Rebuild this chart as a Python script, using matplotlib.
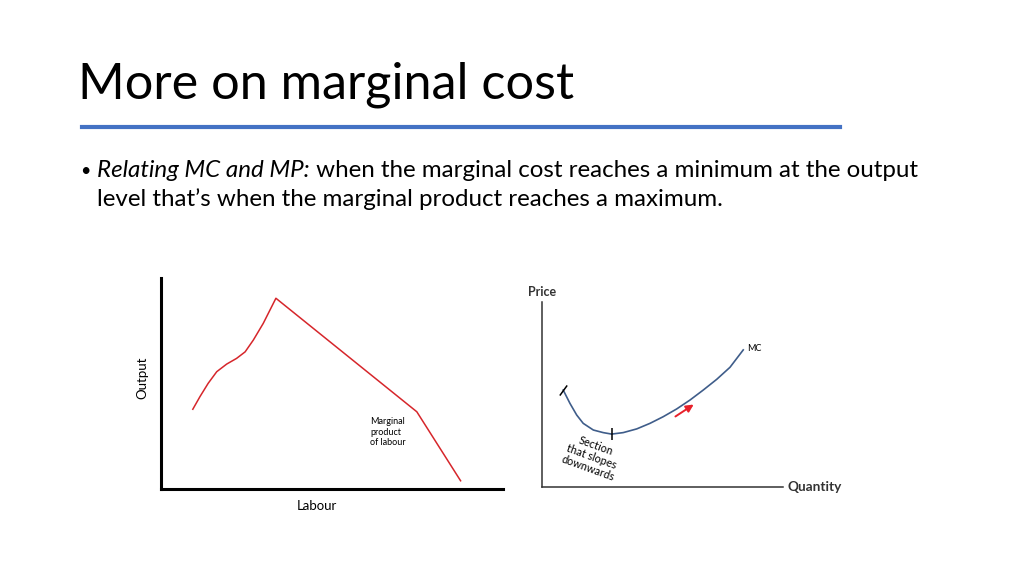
import matplotlib.pyplot as plt

plt.rcParams['font.family'] = ['Lato', 'DejaVu Sans']

# slide text
title = "More on marginal cost"
bullet_lead = "Relating MC and MP:"
bullet_rest = " when the marginal cost reaches a minimum at the output"
bullet_line2 = "level that\u2019s when the marginal product reaches a maximum."

# left chart: marginal product of labour (axis units 0-100)
mp_labour = [9.3, 11.4, 13.8, 16.3, 19.2, 22.1, 24.6, 27.0, 29.9, 33.6, 74.8, 87.6]
mp_output = [37.8, 43.8, 50.1, 55.6, 59.2, 61.9, 65.0, 70.6, 78.5, 90.4, 36.6, 3.9]

# right chart: marginal cost curve (axis units 0-100)
mc_qty = [8.8, 11.6, 14.4, 17.1, 21.3, 25.4, 28.9, 33.7, 39.3, 44.8, 50.3,
          55.9, 61.4, 66.9, 72.5, 78.0, 83.5]
mc_price = [52.4, 45.2, 38.9, 34.4, 30.8, 29.4, 28.6, 29.4, 31.4, 34.4, 38.0,
            42.2, 47.0, 52.4, 58.2, 64.7, 74.1]


def slide_text(fig):
    fig.text(78 / 1024, 1 - 85 / 575, title, fontsize=36.3,
             va='center', ha='left', color='black')
    fig.add_artist(plt.Line2D([82 / 1024, 840 / 1024], [1 - 127 / 575, 1 - 127 / 575],
                              color='#4472C4', lw=3, transform=fig.transFigure))
    fig.text(80 / 1024, 1 - 171 / 575, "\u2022", fontsize=13, va='center', ha='left')
    lead = fig.text(97 / 1024, 1 - 171 / 575, bullet_lead, fontsize=17.4,
                    style='italic', va='center', ha='left')
    r = fig.canvas.get_renderer()
    bb = lead.get_window_extent(r)
    fig.text(bb.x1 / fig.bbox.width, 1 - 171 / 575, bullet_rest, fontsize=17.4,
             va='center', ha='left')
    fig.text(97 / 1024, 1 - 199 / 575, bullet_line2, fontsize=17.4,
             va='center', ha='left')


def left_chart(fig):
    ax = fig.add_axes([161 / 1024, 1 - 489 / 575, 342 / 1024, 211 / 575])
    ax.plot(mp_labour, mp_output, color='#D6262B', lw=1.1)
    ax.set_xlim(0, 100)
    ax.set_ylim(0, 100)
    for s in ['top', 'right']:
        ax.spines[s].set_visible(False)
    ax.spines['left'].set_linewidth(2.2)
    ax.spines['bottom'].set_linewidth(2.2)
    ax.set_xticks([])
    ax.set_yticks([])
    ax.patch.set_alpha(0)
    ax.text(45.6, -8.2, "Labour", fontsize=9.5, va='center', ha='center')
    ax.text(-5.3, 52.6, "Output", fontsize=9.5, va='center', ha='center',
            rotation=90)
    ax.text(61.2, 27, "Marginal\nproduct\nof labour", fontsize=6.5,
            va='center', ha='left', multialignment='left', linespacing=1.25)


def right_chart(fig):
    ax = fig.add_axes([542 / 1024, 1 - 487 / 575, 241 / 1024, 185 / 575])
    ax.plot(mc_qty, mc_price, color='#3F5D8A', lw=1.2)
    ax.plot(mc_qty[0], mc_price[0], marker=(2, 0, -36), color='black',
            markersize=9, mew=1.1)
    ax.plot(mc_qty[6], mc_price[6], marker='|', color='black',
            markersize=8, mew=1.1)
    ax.annotate("", xy=(63.9, 45.4), xytext=(54.4, 37.3),
                arrowprops=dict(arrowstyle='-|>', color='#E8202A', lw=1.4,
                                mutation_scale=11))
    ax.text(mc_qty[-1] + 1.5, mc_price[-1] + 0.8, "MC", fontsize=6.5,
            va='center', ha='left')
    ax.text(20.5, 16.2, "Section\nthat slopes\ndownwards", fontsize=7.8,
            rotation=-20, va='center', ha='center', linespacing=1.05)
    ax.set_xlim(0, 100)
    ax.set_ylim(0, 100)
    for s in ['top', 'right']:
        ax.spines[s].set_visible(False)
    ax.spines['left'].set_linewidth(1.1)
    ax.spines['bottom'].set_linewidth(1.1)
    ax.spines['left'].set_color('#333333')
    ax.spines['bottom'].set_color('#333333')
    ax.set_xticks([])
    ax.set_yticks([])
    ax.patch.set_alpha(0)
    ax.text(-6, 102, "Price", fontsize=9, fontweight='bold', color='#333333',
            va='bottom', ha='left')
    ax.text(102, 0, "Quantity", fontsize=9.8, fontweight='bold', color='#333333',
            va='center', ha='left')


def main():
    fig = plt.figure(figsize=(10.24, 5.75), dpi=100)
    fig.patch.set_facecolor('white')
    slide_text(fig)
    left_chart(fig)
    right_chart(fig)
    fig.savefig("out.png", dpi=100)


if __name__ == "__main__":
    main()
